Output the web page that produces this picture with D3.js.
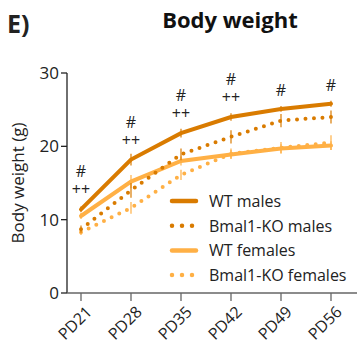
<!DOCTYPE html>
<meta charset="utf-8">
<head>
    <title></title>
    <script src="https://cdn.jsdelivr.net/npm/d3@7"></script>
</head>
<style>
    body{ margin:0; }
    text{ font-family: "Open Sans", sans-serif; fill:#222; }
</style>
<svg width="357" height="348"></svg>
<script>
    var days = ['PD21','PD28','PD35','PD42','PD49','PD56'];
    var wtMales     = [11.4, 18.2, 21.8, 24.0, 25.1, 25.8];
    var wtMalesErr  = [0.4, 0.8, 0.6, 0.5, 0.4, 0.4];
    var koMales     = [8.7, 14.0, 18.9, 21.3, 23.5, 24.0];
    var koMalesErr  = [0.5, 1.0, 0.8, 0.9, 0.9, 0.9];
    var wtFemales   = [10.5, 15.2, 18.0, 18.9, 19.7, 20.1];
    var wtFemalesErr= [0.4, 0.9, 0.6, 0.6, 0.6, 0.6];
    var koFemales   = [8.3, 11.6, 16.1, 19.0, 19.8, 20.5];
    var koFemalesErr= [0.4, 0.8, 0.7, 0.7, 0.8, 1.0];
    var hashMarks   = ['#','#','#','#','#','#'];
    var plusMarks   = ['++','++','++','++','',''];
    var yTicks      = [0, 10, 20, 30];

    var dark = '#d97b00', light = '#ffb045';

    var series = [
        {name:'WT males', values:wtMales, err:wtMalesErr, color:dark, dotted:false},
        {name:'Bmal1-KO males', values:koMales, err:koMalesErr, color:dark, dotted:true},
        {name:'WT females', values:wtFemales, err:wtFemalesErr, color:light, dotted:false},
        {name:'Bmal1-KO females', values:koFemales, err:koFemalesErr, color:light, dotted:true}
    ];

    var svg = d3.select('svg');

    var x = d3.scalePoint().domain(days).range([81, 331]);
    var y = d3.scaleLinear().domain([0, 30]).range([293, 73]);

    // axes
    svg.append('line').attr('x1', 67).attr('x2', 67).attr('y1', y(30)).attr('y2', y(0))
        .style('stroke', '#222').style('stroke-width', 1.3);
    svg.append('line').attr('x1', 67).attr('x2', 357).attr('y1', y(0)).attr('y2', y(0))
        .style('stroke', '#666').style('stroke-width', 1.3);

    svg.selectAll('.ytick').data(yTicks).enter().append('line')
        .attr('x1', 61).attr('x2', 67)
        .attr('y1', function(d){ return y(d); }).attr('y2', function(d){ return y(d); })
        .style('stroke', '#222').style('stroke-width', 1.3);
    svg.selectAll('.ylab').data(yTicks).enter().append('text')
        .attr('x', 59).attr('y', function(d){ return y(d) + 6; })
        .attr('text-anchor', 'end').style('font-size', '17px')
        .text(function(d){ return d; });

    svg.selectAll('.xtick').data(days).enter().append('line')
        .attr('x1', function(d){ return x(d); }).attr('x2', function(d){ return x(d); })
        .attr('y1', y(0)).attr('y2', y(0) + 8)
        .style('stroke', '#666').style('stroke-width', 1.3);
    svg.selectAll('.xlab').data(days).enter().append('text')
        .attr('transform', function(d){ return 'translate(' + (x(d) + 4) + ',' + (y(0) + 12) + ') rotate(-45)'; })
        .attr('text-anchor', 'end').attr('dy', '0.7em').style('font-size', '16px')
        .text(function(d){ return d; });

    svg.append('text')
        .attr('transform', 'translate(24,183) rotate(-90)')
        .attr('text-anchor', 'middle').style('font-size', '17px')
        .text('Body weight (g)');

    svg.append('text').attr('x', 230).attr('y', 28).attr('text-anchor', 'middle')
        .style('font-size', '22px').style('font-weight', 'bold').style('fill', '#111')
        .text('Body weight');
    svg.append('text').attr('x', 7).attr('y', 33)
        .style('font-size', '25px').style('font-weight', 'bold')
        .text('E)');

    var line = d3.line()
        .x(function(d, i){ return x(days[i]); })
        .y(function(d){ return y(d); });

    // draw females first so males sit on top
    [2, 3, 1, 0].forEach(function(k){
        var s = series[k];
        var g = svg.append('g');
        g.selectAll('line').data(s.values).enter().append('line')
            .attr('x1', function(d, i){ return x(days[i]); })
            .attr('x2', function(d, i){ return x(days[i]); })
            .attr('y1', function(d, i){ return y(d - s.err[i]); })
            .attr('y2', function(d, i){ return y(d + s.err[i]); })
            .style('stroke', s.color).style('stroke-width', 1.2);
        g.append('path').datum(s.values).attr('d', line)
            .style('fill', 'none').style('stroke', s.color)
            .style('stroke-width', 4)
            .style('stroke-linecap', 'round')
            .style('stroke-dasharray', s.dotted ? '0 8.5' : null);
    });

    // significance marks
    svg.selectAll('.hash').data(hashMarks).enter().append('text')
        .attr('x', function(d, i){ return x(days[i]); })
        .attr('y', function(d, i){ return y(wtMales[i]) - (plusMarks[i] ? 32 : 13); })
        .attr('text-anchor', 'middle').style('font-size', '16px')
        .text(function(d){ return d; });
    svg.selectAll('.plus').data(plusMarks).enter().append('text')
        .attr('x', function(d, i){ return x(days[i]); })
        .attr('y', function(d, i){ return y(wtMales[i]) - 14; })
        .attr('text-anchor', 'middle').style('font-size', '16px')
        .text(function(d){ return d; });

    // legend
    var leg = svg.selectAll('.leg').data(series).enter().append('g')
        .attr('transform', function(d, i){ return 'translate(170,' + (201 + i * 24.7) + ')'; });
    leg.append('line').attr('x1', 2).attr('x2', 26).attr('y1', 0).attr('y2', 0)
        .style('stroke', function(d){ return d.color; }).style('stroke-width', 4.5)
        .style('stroke-linecap', 'round')
        .style('stroke-dasharray', function(d){ return d.dotted ? '0 10' : null; });
    leg.append('text').attr('x', 39).attr('y', 6).style('font-size', '16px')
        .text(function(d){ return d.name; });
</script>
